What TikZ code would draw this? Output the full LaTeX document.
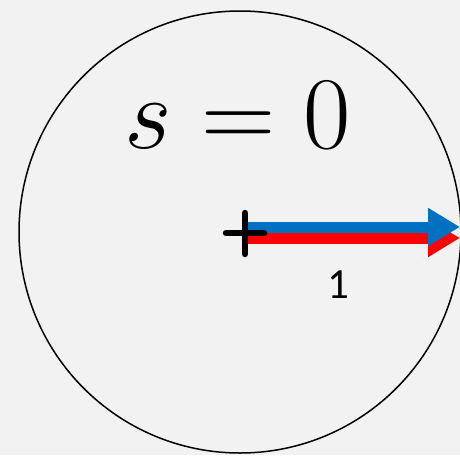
\RequirePackage{fix-cm}
\documentclass[tikz,border=0pt]{standalone}
\usepackage{fontspec}
\usepackage{xcolor}
\usetikzlibrary{arrows.meta,positioning,calc}
\newfontfamily\calibrifont{Carlito}
\definecolor{bgcol}{HTML}{F2F2F2}
\definecolor{vecblue}{HTML}{0070C0}
\definecolor{vecred}{HTML}{FF0000}

\begin{document}
\begin{tikzpicture}[x=1pt,y=-1pt,
  vec/.style={line width=11pt,-{Triangle[length=32pt,width=36pt]}},
  pluspen/.style={line width=6.5pt,line cap=round}]
  \useasboundingbox[fill=bgcol] (0,0) rectangle (460,455);
  \clip (0,0) rectangle (460,455);
  \draw[line width=1.5pt] (240,232) circle[radius=221];
  \node (title) at (238,115) {\fontsize{103}{103}\selectfont $s=0$};
  % origin and unit vectors
  \coordinate (o) at (245,233);
  \coordinate (ored) at (245,238);
  \coordinate (oblue) at (245,227);
  \coordinate (tipred) at (460,238);
  \coordinate (tipblue) at (460,227);
  \draw[vec,vecred] (ored) -- (tipred);
  \draw[vec,vecblue] (oblue) -- (tipblue);
  \draw[pluspen] ($(o)+(0,-20)$) -- ($(o)+(0,21)$);
  \draw[pluspen] ($(o)+(-19,0)$) -- ($(o)+(19,0)$);
  \node[font=\calibrifont\fontsize{43}{43}\selectfont] (len) at (338,285) {1};
\end{tikzpicture}
\end{document}
